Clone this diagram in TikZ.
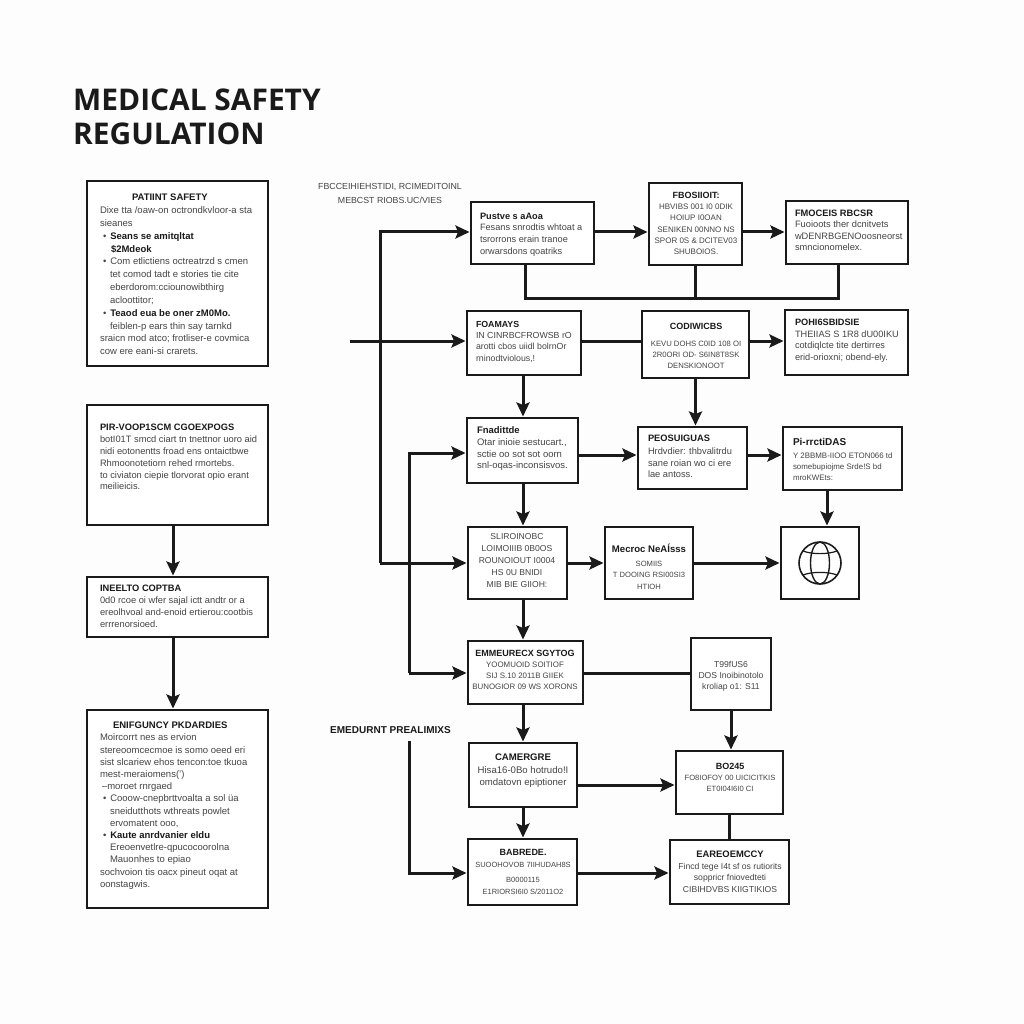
\documentclass[tikz,border=0pt]{standalone}
\usepackage{fontspec}
\setmainfont{Liberation Sans}
\newfontfamily\titlefont{Open Sans}
\usetikzlibrary{arrows.meta,calc}
\definecolor{ink}{HTML}{1A1A1A}
\definecolor{body}{HTML}{444444}
\definecolor{paper}{HTML}{FDFDFD}
\tikzset{
 boxn/.style={draw=ink,line width=1.9pt,fill=white,inner sep=0pt,outer sep=0pt},
 conn/.style={draw=ink,line width=3pt,line join=miter},
 arr/.style={conn,-{Stealth[length=14pt,width=13pt,inset=2.5pt]},shorten >=1.5pt},
 fs/.style 2 args={font=\fontsize{#1}{#2}\selectfont},
 tl/.style={inner sep=0pt,outer sep=0pt,text=body,align=left,anchor=north west,fs={9.3}{11.6}},
 tc/.style={inner sep=0pt,outer sep=0pt,text=body,align=center,anchor=north,fs={8.6}{11.4}},
 ttl/.style={inner sep=0pt,anchor=west,text=ink,font=\titlefont\bfseries\fontsize{29.9}{34}\selectfont},
}
\newcommand\bx[5]{\node[boxn,minimum width={(#4-#2)*1pt},minimum height={(#5-#3)*1pt}] (#1) at ({(#2+#4)/2},{(#3+#5)/2}) {};}
\newcommand\hd[1]{{\bfseries\color{ink}#1}}
\newcommand\hdb[2]{{\fontsize{#1}{1}\selectfont\bfseries\color{ink}#2}}
\newcommand\bl{\hspace*{3pt}\textbullet\hspace*{4pt}}
\begin{document}
\begin{tikzpicture}[x=1pt,y=-1pt]
\useasboundingbox (0,0) rectangle (1024,1024);
\fill[paper] (0,0) rectangle (1024,1024);
% title
\node[ttl] (title1) at (73,100) {MEDICAL SAFETY};
\node[ttl] (title2) at (73,133.5) {REGULATION};
% left boxes
\bx{A}{87}{181}{268}{366}
\bx{B}{87}{405}{268}{525}
\bx{C}{87}{577}{268}{637}
\bx{D}{87}{710}{268}{908}
% right boxes
\bx{E}{471}{202}{594}{264}
\bx{F}{649}{183}{742}{265}
\bx{G}{786}{201}{908}{264}
\bx{H}{467}{311}{581}{375}
\bx{I}{642}{311}{749}{378}
\bx{J}{785}{310}{908}{375}
\bx{K}{467}{418}{578}{483}
\bx{L}{638}{427}{747}{489}
\bx{M}{783}{427}{902}{490}
\bx{N}{468}{527}{567}{599}
\bx{O}{605}{527}{693}{599}
\bx{P}{781}{527}{859}{599}
\bx{Q}{468}{641}{583}{704}
\bx{R}{691}{638}{771}{710}
\bx{S}{469}{743}{577}{807}
\bx{T}{676}{751}{783}{814}
\bx{U}{468}{839}{577}{905}
\bx{V}{670}{840}{789}{904}
% left texts
\node[tl,fs={9.5}{12.85}] (Aa) at (100,194) {\hspace*{32pt}\hd{PATIINT SAFETY}\\Dixe tta /oaw-on octrondkvloor-a sta\\sieanes\\\bl\hd{Seans se amitqltat}\\\hspace*{11pt}\hd{\$2Mdeok}\\\bl Com etlictiens octreatrzd s cmen\\\hspace*{10pt}tet comod tadt e stories tie cite\\\hspace*{10pt}eberdorom:cciounowibthirg\\\hspace*{10pt}acloottitor;\\\bl\hd{Teaod eua be oner zM0Mo.}\\\hspace*{10pt}feiblen-p ears thin say tarnkd\\sraicn mod atco; frotliser-e covmica\\cow ere eani-si crarets.};
\node[tl,fs={9.3}{11.9}] (Ba) at (100,424) {\hd{PIR-VOOP1SCM CGOEXPOGS}\\botI01T smcd ciart tn tnettnor uoro aid\\nidi eotonentts froad ens ontaictbwe\\Rhmoonotetiorn rehed rmortebs.\\to civiaton ciepie tlorvorat opio erant\\meilieicis.};
\node[tl,fs={9.3}{11.9}] (Ca) at (100,585) {\hd{INEELTO COPTBA}\\0d0 rcoe oi wfer sajal ictt andtr or a\\ereolhvoal and-enoid ertierou:cootbis\\errrenorsioed.};
\node[tl,fs={9.5}{12.2}] (Da) at (100,722) {\hspace*{13pt}\hd{ENIFGUNCY PKDARDIES}\\Moircorrt nes as ervion\\stereoomcecmoe is somo oeed eri\\sist slcariew ehos tencon:toe tkuoa\\mest-meraiomens(')\\\hspace*{2pt}--moroet rnrgaed\\\bl Cooow-cnepbrttvoalta a sol üa\\\hspace*{10pt}sneidutthots wthreats powlet\\\hspace*{10pt}ervomatent ooo,\\\bl\hd{Kaute anrdvanier eldu}\\\hspace*{10pt}Ereoenvetlre-qpucocoorolna\\\hspace*{10pt}Mauonhes to epiao\\sochvoion tis oacx pineut oqat at\\oonstagwis.};
% right texts
\node[tl,fs={9.2}{11.6}] (Ea) at (480,213) {\hd{Pustve s aAoa}\\Fesans snrodtis whtoat a\\tsrorrons erain tranoe\\orwarsdons qoatriks};
\node[tc,fs={8}{11.3}] (Fa) at (696,192) {\hdb{9}{FBOSIIOIT:}\\HBVIBS 001 I0 0DIK\\HOIUP I0OAN\\SENIKEN 00NNO NS\\SPOR 0S \& DCITEV03\\SHUBOIOS.};
\node[tl,fs={9.3}{11.4}] (Ga) at (795,210) {\hd{FMOCEIS RBCSR}\\Fuoioots ther dcnitvets\\wDENRBGENOoosneorst\\smncionomelex.};
\node[tl,fs={8.8}{11.4}] (Ha) at (476,321) {\hd{FOAMAYS}\\IN CINRBCFROWSB rO\\arotti cbos uiidl bolrnOr\\rninodtviolous,!};
\node[tc,fs={7.7}{11.2}] (Ia) at (696,323) {\hdb{9}{CODIWICBS}\\[6pt]KEVU DOHS C0ID 108 OI\\2R0ORI OD- S6IN8T8SK\\DENSKIONOOT};
\node[tl,fs={9.2}{11.6}] (Ja) at (795,319) {\hd{POHI6SBIDSIE}\\THEIIAS S 1R8 dU00IKU\\cotdiqlcte tite dertirres\\erid-orioxni; obend-ely.};
\node[tl,fs={9.5}{11.6}] (Ka) at (477,427) {\hd{Fnadittde}\\Otar inioie sestucart.,\\sctie oo sot sot oorn\\snl-oqas-inconsisvos.};
\node[tl,fs={9.3}{11.6}] (La) at (648,435) {\hd{PEOSUIGUAS}\\[1.5pt]Hrdvdier: thbvalitrdu\\sane roian wo ci ere\\lae antoss.};
\node[tl,fs={7.9}{11}] (Ma) at (793,438) {\hdb{10}{Pi-rrctiDAS}\\[2pt]Y 2BBMB-IIOO ETON066 td\\somebupiojme Srde!S bd\\mroKWEts:};
\node[tc,fs={8.6}{12}] (Na) at (517,533.5) {SLIROINOBC\\LOIMOIIIB 0B0OS\\ROUNOIOUT I0004\\HS 0U BNIDI\\MIB BIE GIIOH:};
\node[tc,fs={7.6}{11.2}] (Oa) at (649,544) {\hdb{9.6}{Mecroc NeAÍsss}\\[3pt]SOMIIS\\T DOOING RSI00SI3\\HTIOH};
\node[tc,fs={7.9}{11.2}] (Qa) at (525,650) {\hdb{9}{EMMEURECX SGYTOG}\\YOOMUOID SOITIOF\\SIJ S.10 2011B GIIEK\\BUNOGIOR 09 WS XORONS};
\node[tc,fs={8.6}{11}] (Ra) at (731,661) {T99fUS6\\DOS Inoibinotolo\\kroliap o1: S11};
\node[tc,fs={9.6}{11.6}] (Sa) at (523,754) {\hdb{9.6}{CAMERGRE}\\[1.5pt]Hisa16-0Bo hotrudo!I\\omdatovn epiptioner};
\node[tc,fs={7.6}{11.2}] (Ta) at (730,763) {\hdb{9}{BO245}\\FO8IOFOY 00 UICICITKIS\\ET0I04I6I0 CI};
\node[tc,fs={7.5}{11.8}] (Ua) at (523,849) {\hdb{9}{BABREDE.}\\SUOOHOVOB 7IIHUDAH8S\\[4pt]B0000115\\E1RIORSI6I0 S/2011O2};
\node[tc,fs={8.6}{11.6}] (Va) at (730,851) {\hdb{9.4}{EAREOEMCCY}\\Fincd tege I4t sf os rutiorits\\soppricr fniovedteti\\CIBIHDVBS KIIGTIKIOS};
% side labels
\node[inner sep=0pt,text=body,align=center,fs={8.8}{14}] (L1) at (390,193) {FBCCEIHIEHSTIDI, RCIMEDITOINL\\MEBCST RIOBS.UC/VIES};
\node[inner sep=0pt,text=ink,font=\bfseries\fontsize{10}{11}\selectfont] (L2) at (390.5,730) {EMEDURNT PREALIMIXS};
% globe
\coordinate (gc) at (P.center);
\draw[ink,line width=1.6pt] (gc) circle (21);
\draw[ink,line width=1.4pt] (gc) ellipse (9.5 and 21);
\draw[ink,line width=1.2pt] ($(gc)+(-17,-12)$) .. controls ($(gc)+(-8,-8.5)$) and ($(gc)+(8,-8.5)$) .. ($(gc)+(17,-12)$);
\draw[ink,line width=1.2pt] ($(gc)+(-17,12)$) .. controls ($(gc)+(-8,8.5)$) and ($(gc)+(8,8.5)$) .. ($(gc)+(17,12)$);
% connectors: left column
\coordinate (x173) at (173,550);
\draw[arr] (x173 |- B.south) -- (x173 |- C.north);
\draw[arr] (x173 |- C.south) -- (x173 |- D.north);
% top rows
\coordinate (feedT) at (380,232);
\coordinate (feedB) at (380,563);
\coordinate (feedIn) at (350,341);
\draw[arr] (feedIn) -- (feedIn -| H.west);
\draw[arr] (feedB) -- (feedT) -- (feedT -| E.west);
\draw[arr] (feedB) -- (feedB -| N.west);
\draw[arr] (E.east |- feedT) -- (F.west |- feedT);
\draw[arr] (F.east |- feedT) -- (G.west |- feedT);
\coordinate (busL) at (525,298);
\coordinate (busR) at (838,298);
\draw[conn] (busL |- E.south) -- (busL) -- (busR) -- (busR |- G.south);
\draw[conn] (F.south) -- (F.south |- busL);
\draw[conn] (H.east |- feedIn) -- (I.west |- feedIn);
\draw[arr] (I.east |- feedIn) -- (J.west |- feedIn);
\coordinate (x523) at (523,400);
\draw[arr] (x523 |- H.south) -- (x523 |- K.north);
\draw[arr] (I.south) -- (I.south |- L.north);
% third row
\coordinate (r3) at (0,455);
\coordinate (x827) at (827,510);
\draw[arr] (K.east |- r3) -- (L.west |- r3);
\draw[arr] (L.east |- r3) -- (M.west |- r3);
\draw[arr] (x523 |- K.south) -- (x523 |- N.north);
\draw[arr] (x827 |- M.south) -- (x827 |- P.north);
% second feed
\coordinate (f2T) at (409,453);
\coordinate (f2B) at (409,673);
\draw[arr] (f2B) -- (f2T) -- (f2T -| K.west);
\draw[arr] (f2B) -- (f2B -| Q.west);
% fourth row
\draw[arr] (N.east |- feedB) -- (O.west |- feedB);
\draw[arr] (O.east |- feedB) -- (P.west |- feedB);
\draw[arr] (x523 |- N.south) -- (x523 |- Q.north);
% fifth row
\draw[conn] (Q.east |- f2B) -- (R.west |- f2B);
\draw[arr] (R.south) -- (R.south |- T.north);
\draw[arr] (x523 |- Q.south) -- (x523 |- S.north);
\coordinate (r6) at (0,785);
\draw[arr] (S.east |- r6) -- (T.west |- r6);
\draw[arr] (x523 |- S.south) -- (x523 |- U.north);
\coordinate (f3T) at (409,741);
\coordinate (f3B) at (409,873);
\draw[arr] (f3T) -- (f3B) -- (f3B -| U.west);
\draw[arr] (U.east |- f3B) -- (V.west |- f3B);
\draw[conn] (T.south) -- (T.south |- V.north);
\end{tikzpicture}
\end{document}
